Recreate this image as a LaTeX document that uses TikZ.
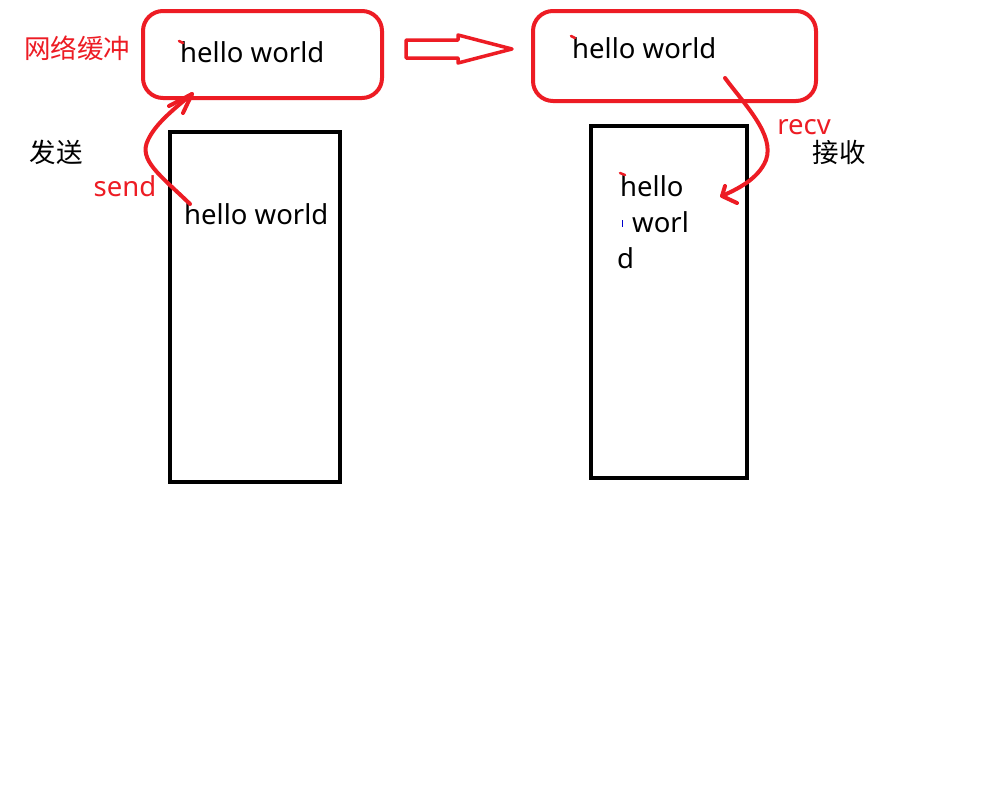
\documentclass[tikz,border=0pt]{standalone}
\usepackage{fontspec}
\setmainfont{Noto Sans}
\newfontfamily\cjk{Noto Sans CJK SC}
\definecolor{pred}{RGB}{237,28,36}
\begin{document}
\begin{tikzpicture}[x=1pt,y=-1pt,
  txt/.style={inner sep=0pt,anchor=base west,font=\fontsize{27.5}{32}\selectfont},
  cjktxt/.style={inner sep=0pt,anchor=center,font=\cjk\fontsize{26.5}{30}\selectfont},
  buffer/.style={draw=pred,line width=4pt,rounded corners=20pt},
  mem/.style={draw=black,line width=4pt},
  flow/.style={draw=pred,line width=4pt,line cap=round,line join=round},
  tick/.style={draw=pred,line width=2.5pt,line cap=round}]
\useasboundingbox[fill=white] (0,0) rectangle (1000,798);
% buffers
\draw[buffer] (143,11) rectangle (382,98);
\draw[buffer] (533,11) rectangle (816,101);
% memory boxes
\draw[mem] (170,132) rectangle (340,482);
\draw[mem] (591,126) rectangle (747,478);
% texts
\node[txt] (bufL) at (180,62) {hello world};
\node[txt] (bufR) at (572,58) {hello world};
\node[txt] (sendtxt) at (184,224) {hello world};
\node[txt] (r1) at (620,196) {hello};
\node[txt] (r2) at (632,232) {worl};
\node[txt] (r3) at (617,268) {d};
\node[cjktxt,text=pred] (net) at (77,48) {网络缓冲};
\node[cjktxt] (fasong) at (56,152) {发送};
\node[cjktxt] (jieshou) at (839,152) {接收};
\node[txt,text=pred,anchor=center] (send) at (125,186) {send};
\node[txt,text=pred,anchor=center] (recv) at (804,127) {recv};
% tiny marks
\draw[tick] (179,41) -- (183,43);
\draw[tick] (571,36) -- (575,38);
\draw[tick] (620,173) -- (625,175);
\draw[draw=blue!80!black,line width=1pt] (622,220) -- (622,227);
% send arrow
\coordinate (s0) at (190,204);
\coordinate (s1) at (192,94);
\draw[flow] (s0) .. controls (160,175) and (138,160) .. (148,140)
  .. controls (155,125) and (170,112) .. (s1);
\draw[flow] (169,106) -- (s1) -- (183,113);
% recv arrow
\coordinate (r0) at (725,78);
\coordinate (rt) at (722,196);
\draw[flow] (r0) .. controls (745,105) and (775,135) .. (766,160)
  .. controls (758,180) and (735,190) .. (rt);
\draw[flow] (725,186) -- (rt) -- (737,203);
% hollow arrow
\draw[flow,line width=3.5pt] (406,40) -- (458,40) -- (458,35) -- (512,49) -- (458,63) -- (458,58) -- (406,58) -- cycle;
\end{tikzpicture}
\end{document}
